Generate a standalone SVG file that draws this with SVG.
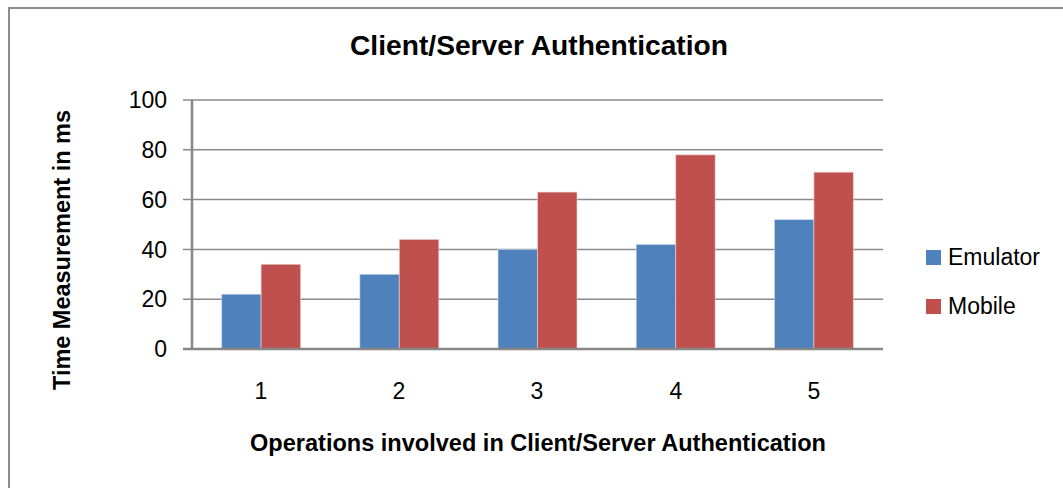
<svg xmlns="http://www.w3.org/2000/svg" width="1063" height="488" viewBox="0 0 1063 488">
<style>
  .grid { stroke: #8a8a8a; stroke-width: 1.5; fill: none; }
  .axis { stroke: #868686; stroke-width: 2.5; fill: none; }
  .emu { fill: #4F81BD; stroke: #dfe6f0; stroke-opacity: 0.6; stroke-width: 1; }
  .mob { fill: #C0504D; stroke: #f0d8d8; stroke-opacity: 0.6; stroke-width: 1; }
  .lbl { font-family: "Liberation Sans", Arial, sans-serif; font-size: 23px; fill: #000; }
  .ttl { font-family: "Liberation Sans", Arial, sans-serif; font-weight: bold; fill: #000; }
</style>
<rect x="0" y="0" width="1063" height="488" fill="#fff"/>
<rect id="frame" x="9" y="8" width="1080" height="500" fill="none" stroke="#8c8c8c" stroke-width="2"/>
<text id="title" class="ttl" x="539" y="55" font-size="28" text-anchor="middle" textLength="378" lengthAdjust="spacingAndGlyphs">Client/Server Authentication</text>
<g id="gridlines">
  <line class="grid" x1="183" y1="100" x2="883" y2="100"/>
  <line class="grid" x1="183" y1="149.8" x2="883" y2="149.8"/>
  <line class="grid" x1="183" y1="199.6" x2="883" y2="199.6"/>
  <line class="grid" x1="183" y1="249.4" x2="883" y2="249.4"/>
  <line class="grid" x1="183" y1="299.2" x2="883" y2="299.2"/>
</g>
<g id="y-labels" class="lbl" text-anchor="end">
  <text x="167" y="108">100</text>
  <text x="167" y="158">80</text>
  <text x="167" y="208">60</text>
  <text x="167" y="258">40</text>
  <text x="167" y="307">20</text>
  <text x="167" y="357">0</text>
</g>
<g id="bars">
  <rect class="emu" x="221.6" y="294.2" width="39.5" height="54.8"/>
  <rect class="mob" x="261.1" y="264.3" width="39.5" height="84.7"/>
  <rect class="emu" x="359.8" y="274.3" width="39.5" height="74.7"/>
  <rect class="mob" x="399.3" y="239.4" width="39.5" height="109.6"/>
  <rect class="emu" x="498" y="249.4" width="39.5" height="99.6"/>
  <rect class="mob" x="537.5" y="192.1" width="39.5" height="156.9"/>
  <rect class="emu" x="636.2" y="244.4" width="39.5" height="104.6"/>
  <rect class="mob" x="675.7" y="154.8" width="39.5" height="194.2"/>
  <rect class="emu" x="774.4" y="219.5" width="39.5" height="129.5"/>
  <rect class="mob" x="813.9" y="172.2" width="39.5" height="176.8"/>
</g>
<g id="axes">
  <line class="axis" x1="192" y1="100" x2="192" y2="349"/>
  <line class="axis" x1="183" y1="349" x2="883" y2="349"/>
</g>
<g id="x-labels" class="lbl" text-anchor="middle">
  <text x="261" y="399">1</text>
  <text x="399" y="399">2</text>
  <text x="537" y="399">3</text>
  <text x="676" y="399">4</text>
  <text x="814" y="399">5</text>
</g>
<text id="x-title" class="ttl" x="538" y="451" font-size="23" text-anchor="middle" textLength="576" lengthAdjust="spacingAndGlyphs">Operations involved in Client/Server Authentication</text>
<text id="y-title" class="ttl" transform="translate(70,250) rotate(-90)" x="0" y="0" font-size="23" text-anchor="middle" textLength="280" lengthAdjust="spacingAndGlyphs">Time Measurement in ms</text>
<g id="legend">
  <g id="legend-emulator">
    <rect x="926" y="250" width="15" height="15" fill="#4F81BD"/>
    <text class="lbl" x="948" y="264.5" font-size="24">Emulator</text>
  </g>
  <g id="legend-mobile">
    <rect x="926" y="299" width="15" height="15" fill="#C0504D"/>
    <text class="lbl" x="948" y="313.5" font-size="24">Mobile</text>
  </g>
</g>
</svg>
